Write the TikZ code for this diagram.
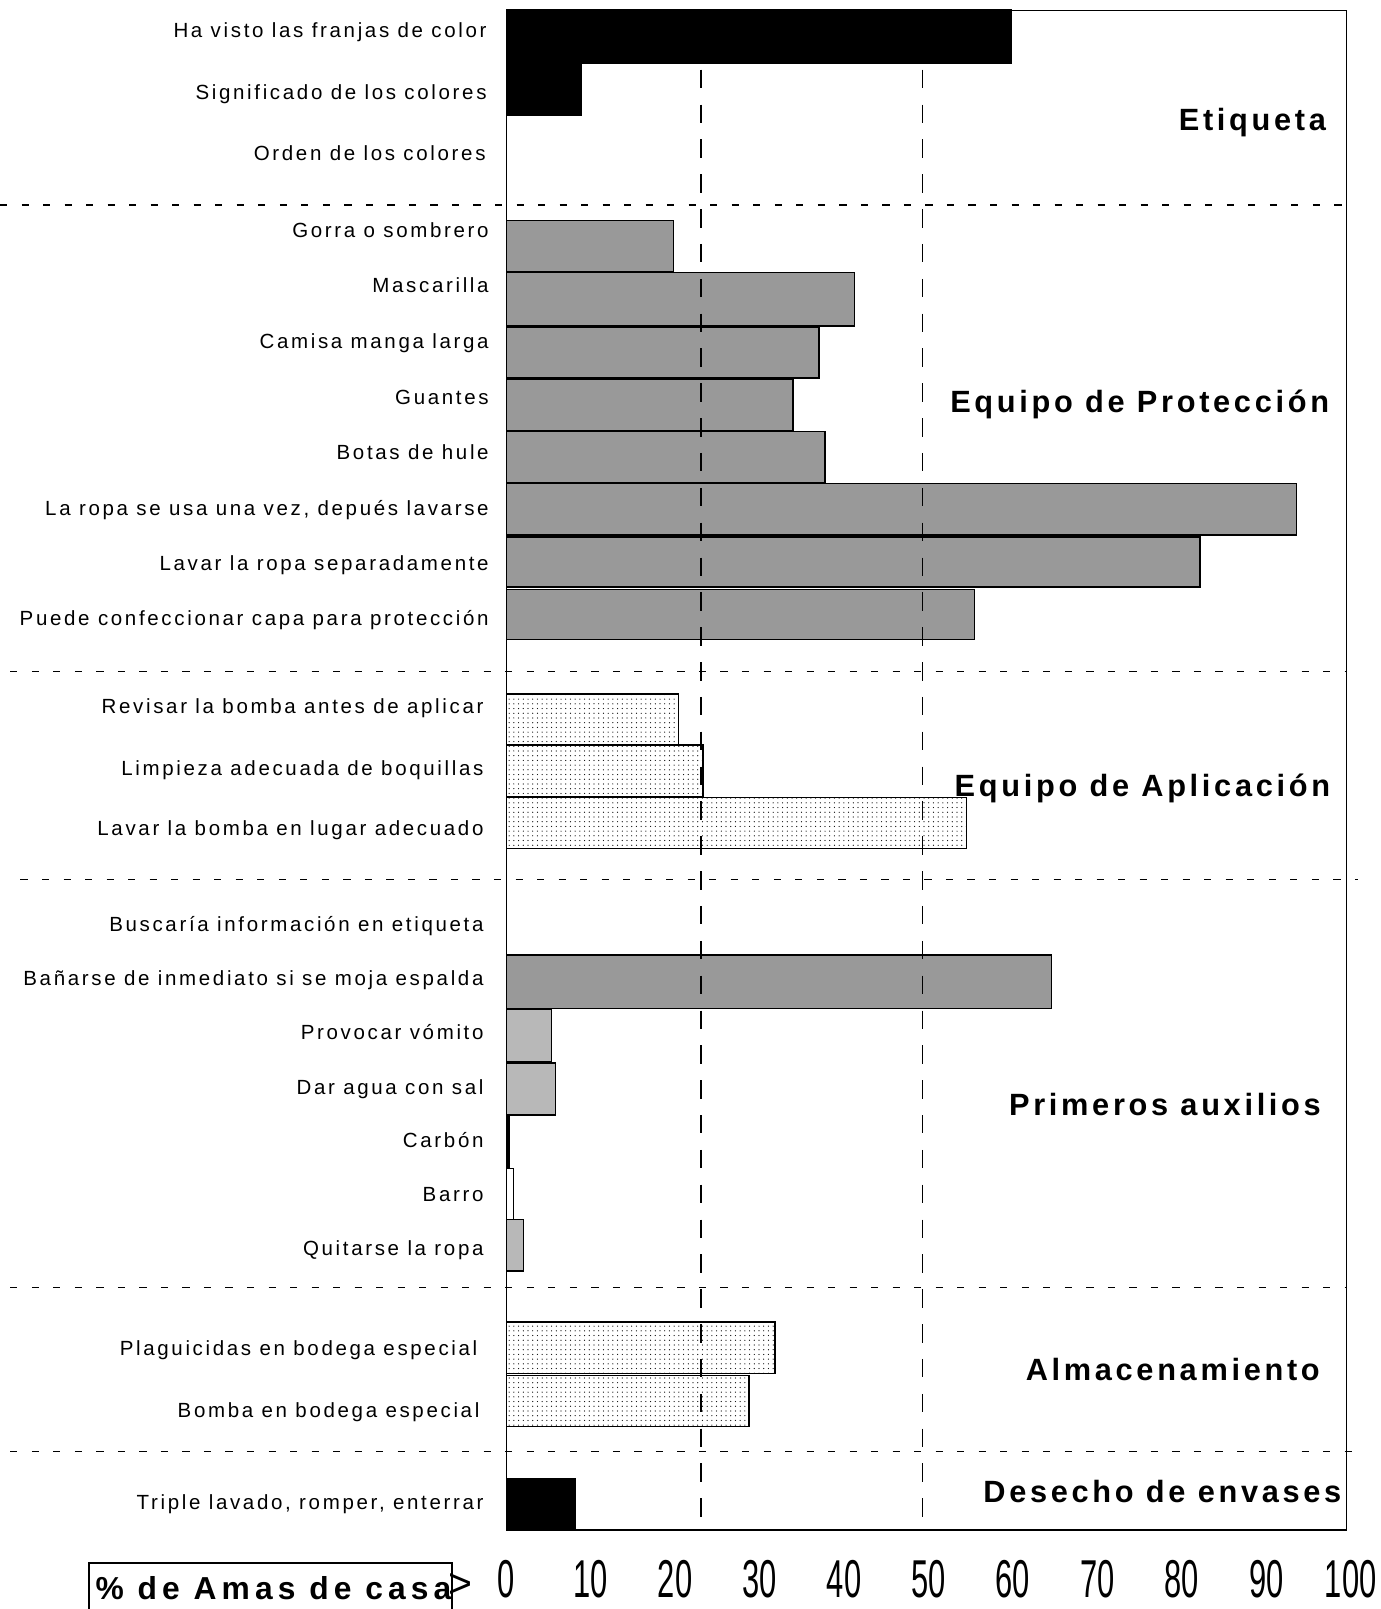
\documentclass[tikz,border=0pt]{standalone}
\usepackage{fontspec}
\setmainfont{Liberation Sans}
\newfontfamily\itemfont[LetterSpace=13]{Liberation Sans}
\newfontfamily\secfont[LetterSpace=12]{Liberation Sans}
\newfontfamily\amasfont[LetterSpace=16]{Liberation Sans}
\usetikzlibrary{patterns.meta}
\tikzset{
 itemlab/.style={anchor=mid east, inner sep=0pt, yshift=-4pt, font=\itemfont\fontsize{20}{22}\selectfont},
 seclab/.style={anchor=mid east, inner sep=0pt, yshift=-7pt, font=\secfont\bfseries\fontsize{30}{33}\selectfont},
 numlab/.style={anchor=center, inner sep=0pt, font=\fontsize{52}{56}\selectfont},
 barblack/.style={draw=black, line width=1.5pt, fill=black},
 bargray/.style={draw=black, line width=1.5pt, fill=black!40},
 barlight/.style={draw=black, line width=1.5pt, fill=black!28},
 barwhite/.style={draw=black, line width=1.5pt, fill=white},
 bardots/.style={draw=black, line width=1.5pt, pattern={Dots[distance=4.6pt, radius=0.6pt]}},
 sepline/.style={line width=1.3pt, dash pattern=on 7pt off 14pt},
 refline/.style={line width=1.3pt, dash pattern=on 18pt off 16pt},
 frameline/.style={line width=1.4pt},
}
\begin{document}
\begin{tikzpicture}[x=1pt,y=-1pt]
\useasboundingbox (0,0) rectangle (1347.5,1570);
\fill[white] (0,0) rectangle (1347.5,1570);

% bars: Etiqueta
\draw[barblack] (494,10) rectangle (987,62);
\draw[barblack] (494,62) rectangle (567,112);
% Equipo de Proteccion
\draw[bargray] (494,215) rectangle (657,265);
\draw[bargray] (494,266) rectangle (834,318);
\draw[bargray] (494,319) rectangle (799,369);
\draw[bargray] (494,370) rectangle (774,420);
\draw[bargray] (494,421) rectangle (805,471);
\draw[bargray] (494,472) rectangle (1265,522);
\draw[bargray] (494,524) rectangle (1171,573);
\draw[bargray] (494,575) rectangle (951,624);
% Equipo de Aplicacion
\draw[bardots] (494,677) rectangle (662,727);
\draw[bardots] (494,727) rectangle (686,777);
\draw[bardots] (494,778) rectangle (943,828);
% Primeros auxilios
\draw[bargray] (494,932) rectangle (1026,984);
\draw[barlight] (494,985) rectangle (538,1036);
\draw[barlight] (494,1037) rectangle (542,1088);
\draw[barblack] (494,1089) rectangle (497,1140);
\draw[barwhite] (494,1140) rectangle (501,1190);
\draw[barlight] (494,1190) rectangle (511,1240);
% Almacenamiento
\draw[bardots] (494,1290) rectangle (756,1340);
\draw[bardots] (494,1342) rectangle (731,1392);
% Desecho
\draw[barblack] (494,1443) rectangle (561,1493);

% frame
\draw[frameline] (494,10) rectangle (1314,1493);

% reference lines
\draw[refline] (684,68) -- (684,1493);
\draw[refline] (900,68) -- (900,1493);

% separators
\draw[sepline] (0,200) -- (1314,200);
\draw[sepline] (10,655) -- (1314,655);
\draw[sepline] (20,858) -- (1325,858);
\draw[sepline] (10,1256) -- (1314,1256);
\draw[sepline] (10,1416) -- (1325,1416);

% item labels
\node[itemlab] (l1) at (475,30) {Ha visto las franjas de color};
\node[itemlab] (l2) at (475,90) {Significado de los colores};
\node[itemlab] (l3) at (474,150) {Orden de los colores};
\node[itemlab] (l4) at (477,225) {Gorra o sombrero};
\node[itemlab] (l5) at (477,279) {Mascarilla};
\node[itemlab] (l6) at (477,333) {Camisa manga larga};
\node[itemlab] (l7) at (477,388) {Guantes};
\node[itemlab] (l8) at (477,442) {Botas de hule};
\node[itemlab] (l9) at (477,496) {La ropa se usa una vez, depués lavarse};
\node[itemlab] (l10) at (477,550) {Lavar la ropa separadamente};
\node[itemlab] (l11) at (477,604) {Puede confeccionar capa para protección};
\node[itemlab] (l12) at (472,690) {Revisar la bomba antes de aplicar};
\node[itemlab] (l13) at (472,750) {Limpieza adecuada de boquillas};
\node[itemlab] (l14) at (472,809) {Lavar la bomba en lugar adecuado};
\node[itemlab] (l15) at (472,902) {Buscaría información en etiqueta};
\node[itemlab] (l16) at (472,955) {Bañarse de inmediato si se moja espalda};
\node[itemlab] (l17) at (472,1008) {Provocar vómito};
\node[itemlab] (l18) at (472,1061) {Dar agua con sal};
\node[itemlab] (l19) at (472,1113) {Carbón};
\node[itemlab] (l20) at (472,1166) {Barro};
\node[itemlab] (l21) at (472,1218) {Quitarse la ropa};
\node[itemlab] (l22) at (466,1316) {Plaguicidas en bodega especial};
\node[itemlab] (l23) at (468,1376) {Bomba en bodega especial};
\node[itemlab] (l24) at (472,1466) {Triple lavado, romper, enterrar};

% section labels
\node[seclab] (s1) at (1294,118) {Etiqueta};
\node[seclab] (s2) at (1297,393) {Equipo de Protección};
\node[seclab] (s3) at (1298,768) {Equipo de Aplicación};
\node[seclab] (s4) at (1289,1079) {Primeros auxilios};
\node[seclab] (s5) at (1288,1337) {Almacenamiento};
\node[seclab] (s6) at (1309,1456) {Desecho de envases};

% axis numbers
\foreach \v in {0,10,...,100}
  \node[numlab] (n\v) at ({494+8.24*\v},1541) {\scalebox{0.58}[1]{\v}};

% axis caption
\draw[frameline] (87,1575) -- (87,1525) -- (441,1525) -- (441,1575);
\node[anchor=base west, inner sep=0pt, font=\amasfont\bfseries\fontsize{31}{34}\selectfont] (amas) at (93,1561) {\% de Amas de casa};
\node[anchor=base, inner sep=0pt, font=\fontsize{40}{42}\selectfont] (gt) at (449,1559) {>};
\end{tikzpicture}
\end{document}
